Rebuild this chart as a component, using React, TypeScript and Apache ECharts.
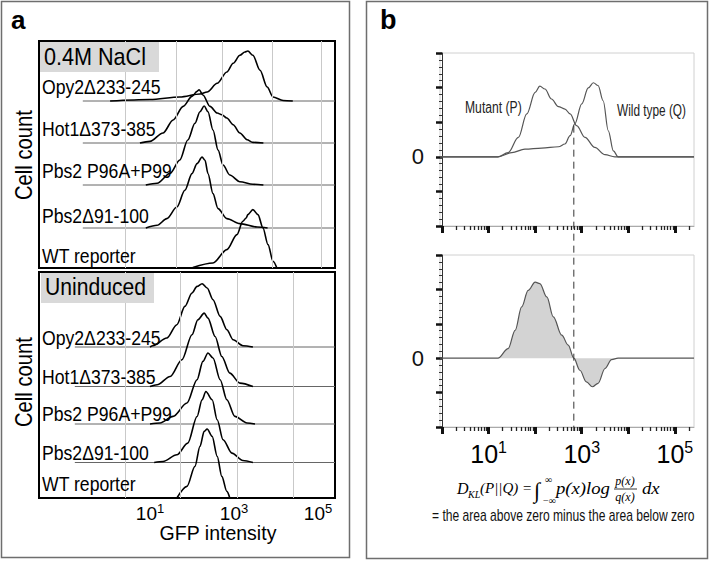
import { useEffect, useRef } from 'react';
import * as echarts from 'echarts';

const NARROW = "'Liberation Sans Narrow','Arial Narrow','Liberation Sans',Arial,sans-serif";
const SANS = "'Liberation Sans',Arial,Helvetica,sans-serif";
const SERIF = "'Liberation Serif','Times New Roman',serif";

// ---------- Panel a : x = log10(GFP intensity), y = cell count (a.u.) above each ridge baseline
const strainLabels = ['Opy2Δ233-245', 'Hot1Δ373-385', 'Pbs2 P96A+P99', 'Pbs2Δ91-100', 'WT reporter'];
const saltOffsets = [167, 125, 83, 40, 0];
const uninducedOffsets = [151, 111.5, 74, 35.5, 0];
const saltBaselineStart = -0.6;
const uninducedBaselineStart = -0.79;

const opy2Salt = [[0.05, 0], [1.0, 1.5], [1.71, 4], [2.19, 7], [2.36, 9], [2.6, 17.7], [2.83, 29], [2.98, 37.7], [3.14, 45.7], [3.26, 49], [3.33, 50], [3.45, 45.7], [3.62, 30.7], [3.79, 14], [3.93, 4], [4.17, 0.5], [4.4, 0]];
const hot1Salt = [[0.76, 0], [1.0, 1.6], [1.31, 10], [1.55, 23], [1.79, 36.6], [2.0, 46.6], [2.12, 51.6], [2.17, 53.3], [2.26, 48], [2.43, 36.6], [2.6, 30], [2.71, 28.3], [2.83, 25], [2.98, 18.3], [3.14, 10], [3.31, 3.3], [3.45, 0.6], [3.7, 0]];
const p96Salt = [[0.9, 0], [1.17, 1.7], [1.48, 11.7], [1.71, 25], [1.9, 45], [2.07, 61.7], [2.19, 73.3], [2.29, 79], [2.38, 73.3], [2.5, 55], [2.62, 35], [2.74, 20], [2.9, 10], [3.14, 3.3], [3.45, 0.7], [3.7, 0]];
const d91Salt = [[0.9, 0], [1.17, 2.7], [1.4, 9.4], [1.64, 21], [1.83, 37.7], [2.0, 54.4], [2.12, 64.4], [2.24, 71], [2.31, 67.7], [2.38, 54.4], [2.5, 34.4], [2.62, 19.4], [2.83, 9.4], [3.14, 4.4], [3.55, 1], [3.8, 0]];
const wtSalt = [[2.02, 0.5], [2.5, 5], [2.83, 18.4], [3.07, 33.4], [3.21, 46.7], [3.29, 50], [3.33, 53.4], [3.45, 58.4], [3.57, 53.4], [3.69, 40], [3.81, 23.4], [3.93, 6.7], [4.02, 0]];

const opy2Un = [[1.0, 0], [1.07, 1.3], [1.4, 9], [1.64, 22.3], [1.83, 40.6], [2.0, 54], [2.12, 60.6], [2.24, 63.3], [2.36, 59], [2.5, 47.3], [2.67, 30.6], [2.83, 17.3], [2.98, 7.3], [3.21, 1.3], [3.45, 0]];
const hot1Un = [[1.0, 0], [1.17, 1.7], [1.48, 10], [1.76, 26.7], [2.0, 51.7], [2.14, 66.7], [2.29, 73.4], [2.38, 68.4], [2.55, 50], [2.71, 30], [2.9, 13.4], [3.14, 3.4], [3.45, 0]];
const p96Un = [[1.0, 0], [1.24, 1], [1.55, 7.6], [1.88, 21], [2.12, 44.3], [2.26, 62.6], [2.38, 71], [2.5, 66], [2.67, 44.3], [2.83, 24.3], [3.02, 7.6], [3.31, 1], [3.5, 0]];
const d91Un = [[1.1, 0], [1.31, 1], [1.64, 7.7], [1.9, 19.4], [2.12, 46], [2.24, 62.7], [2.33, 71], [2.48, 62.7], [2.6, 42.7], [2.74, 22.7], [2.95, 9.4], [3.21, 2], [3.45, 0]];
const wtUn = [[1.64, 0], [1.88, 11.6], [2.07, 31.6], [2.19, 51.6], [2.29, 66.6], [2.36, 69], [2.48, 61.6], [2.6, 41.6], [2.71, 21.6], [2.83, 6.6], [2.9, 0]];

const saltCurves = [opy2Salt, hot1Salt, p96Salt, d91Salt, wtSalt];
const uninducedCurves = [opy2Un, hot1Un, p96Un, d91Un, wtUn];
const saltGridLines = [0.405, 1.62, 2.71, 3.9, 5.07];
const uninducedGridLines = [0.405, 1.71, 3.07, 4.4];
const panelATickDecades = [1, 3, 5];
const A_X_MIN = -1.643;
const A_X_MAX = 5.405;

// ---------- Panel b : x = log10(intensity)
const mutantP = [[1.2, 0], [1.42, 0.12], [1.64, 0.56], [1.82, 1.24], [2.0, 1.86], [2.1, 2.04], [2.21, 1.96], [2.35, 1.67], [2.5, 1.45], [2.64, 1.38], [2.75, 1.24], [2.89, 0.9], [3.07, 0.56], [3.28, 0.27], [3.5, 0.06], [3.71, 0]];
const wildQ = [[1.2, 0], [1.5, 0.12], [1.78, 0.22], [2.14, 0.25], [2.5, 0.29], [2.64, 0.37], [2.75, 0.61], [2.85, 0.95], [3.0, 1.53], [3.14, 1.99], [3.25, 2.14], [3.35, 2.06], [3.46, 1.62], [3.57, 0.75], [3.68, 0.17], [3.78, 0]];
const klIntegrand = [[1.2, 0], [1.42, 0.28], [1.57, 0.81], [1.71, 1.49], [1.85, 1.97], [2.0, 2.21], [2.1, 2.17], [2.25, 1.78], [2.39, 1.2], [2.57, 0.67], [2.71, 0.38], [2.83, 0], [2.96, -0.35], [3.1, -0.69], [3.23, -0.83], [3.35, -0.73], [3.5, -0.3], [3.64, -0.04], [3.78, 0]];
const crossLog = 2.83;
const crossHeight = 0.9;
const panelBMajorDecades = [0, 1, 2, 3, 4, 5];
const panelBLabelDecades = [1, 3, 5];
const B_X_MIN = -0.043;
const B_X_MAX = 5.41;

const minorDecades: number[] = [];
for (let d = 0; d <= 5; d++) {
  for (let k = 2; k <= 9; k++) {
    const v = d + Math.log10(k);
    if (v <= B_X_MAX) minorDecades.push(v);
  }
}

function txt(text: string, x: number, y: number, size: number, opts: any = {}) {
  return {
    type: 'text',
    x,
    y,
    z: 110,
    scaleX: opts.scaleX ?? 1,
    rotation: opts.rotation ?? 0,
    style: {
      text,
      fontSize: size,
      fontFamily: opts.family ?? SANS,
      fontWeight: opts.weight ?? 'normal',
      fontStyle: opts.italic ? 'italic' : 'normal',
      fill: opts.fill ?? '#000',
      align: opts.align ?? 'left',
      verticalAlign: 'middle',
    },
  };
}

function buildGraphic(dash: number[] | null) {
  const els: any[] = [
    { type: 'rect', z: 100, shape: { x: 1.5, y: 1.5, width: 348, height: 556 }, style: { fill: 'none', stroke: '#6e6e6e', lineWidth: 1.5 } },
    { type: 'rect', z: 100, shape: { x: 366.5, y: 1.5, width: 341, height: 557 }, style: { fill: 'none', stroke: '#6e6e6e', lineWidth: 1.5 } },
    txt('a', 11, 20, 26, { weight: 'bold' }),
    txt('b', 380, 20, 27, { weight: 'bold' }),
    { type: 'rect', z: 100, shape: { x: 40, y: 42, width: 119, height: 30 }, style: { fill: '#d9d9d9' } },
    txt('0.4M NaCl', 44, 57, 24, { scaleX: 0.9 }),
    { type: 'rect', z: 100, shape: { x: 41, y: 273, width: 113, height: 30 }, style: { fill: '#d9d9d9' } },
    txt('Uninduced', 45, 287, 24, { scaleX: 0.88 }),
    txt('Cell count', 24, 155, 23, { scaleX: 0.88, rotation: Math.PI / 2, align: 'center' }),
    txt('Cell count', 24, 382, 23, { scaleX: 0.88, rotation: Math.PI / 2, align: 'center' }),
    txt('GFP intensity', 218, 533, 21, { scaleX: 0.93, align: 'center' }),
    txt('Mutant (P)', 465, 107, 16, { scaleX: 0.76, fill: '#222' }),
    txt('Wild type (Q)', 617, 110, 16, { scaleX: 0.74, fill: '#222' }),
    // formula
    txt('D', 457, 488, 16, { family: SERIF, italic: true }),
    txt('KL', 468, 494, 10, { family: SERIF, italic: true }),
    txt('(P||Q) =', 480, 488, 15, { family: SERIF, italic: true }),
    txt('∫', 534, 490, 22, { family: SERIF, italic: true }),
    txt('∞', 545, 479, 10, { family: SERIF }),
    txt('−∞', 543, 500, 10, { family: SERIF }),
    txt('p(x)log', 556, 488, 17, { family: SERIF, italic: true, scaleX: 1.1 }),
    txt('p(x)', 625, 481, 12, { family: SERIF, italic: true, align: 'center' }),
    { type: 'line', z: 110, shape: { x1: 614, y1: 489, x2: 637, y2: 489 }, style: { stroke: '#000', lineWidth: 0.8 } },
    txt('q(x)', 625, 497, 12, { family: SERIF, italic: true, align: 'center' }),
    txt('dx', 642, 488, 17, { family: SERIF, italic: true, scaleX: 1.1 }),
    txt('= the area above zero minus the area below zero', 432, 515, 16, { scaleX: 0.755, fill: '#111' }),
  ];
  const labelYTop = [86, 128, 170, 215, 255];
  const labelYBottom = [337, 376, 413, 452, 483];
  strainLabels.forEach((s, i) => {
    els.push(txt(s, 42, labelYTop[i], 21, { scaleX: 0.84 }));
    els.push(txt(s, 42, labelYBottom[i], 21, { scaleX: 0.84 }));
  });
  if (dash) {
    els.push({ type: 'line', z: 105, shape: { x1: dash[0], y1: dash[1], x2: dash[2], y2: dash[3] }, style: { stroke: '#333', lineWidth: 1, lineDash: [7, 5] } });
  }
  return els;
}

function ridgeSeries(curves: number[][][], offsets: number[], start: number, axis: number, gridLines: number[]) {
  const out: any[] = [];
  out.push({
    type: 'line', xAxisIndex: axis, yAxisIndex: axis, data: [[A_X_MIN, 0]], symbol: 'none', lineStyle: { opacity: 0 }, z: 1, silent: true,
    markLine: { silent: true, symbol: ['none', 'none'], label: { show: false }, lineStyle: { color: '#c9c9c9', width: 1, type: 'solid' }, data: gridLines.map((v) => ({ xAxis: v })) },
  });
  curves.forEach((c, i) => {
    const off = offsets[i];
    if (off > 0) {
      out.push({ type: 'line', xAxisIndex: axis, yAxisIndex: axis, data: [[start, off], [A_X_MAX, off]], symbol: 'none', lineStyle: { color: '#666', width: 1 }, z: 2, silent: true });
    }
    out.push({
      type: 'line', name: strainLabels[i], xAxisIndex: axis, yAxisIndex: axis, smooth: 0.3, smoothMonotone: 'x',
      data: c.map(([x, h]) => [x, h + off]), symbol: 'none', lineStyle: { color: '#000', width: 1.6 }, z: 3, silent: true,
    });
  });
  return out;
}

const powRich = (big: number, small: number) => ({
  b: { fontSize: big, fontFamily: NARROW, color: '#000', lineHeight: big + 4 },
  s: { fontSize: small, fontFamily: NARROW, color: '#000', verticalAlign: 'top', lineHeight: big + 4 },
});

export default function App() {
  const ref = useRef<HTMLDivElement>(null);
  useEffect(() => {
    const chart = echarts.init(ref.current!, null, { renderer: 'svg' });
    const bXMajor = (grid: number, labels: boolean) => ({
      gridIndex: grid, type: 'value', position: 'bottom', min: B_X_MIN, max: B_X_MAX,
      axisLine: { show: true, onZero: false, lineStyle: { color: '#aaa', width: 1 } },
      axisTick: { show: true, customValues: panelBMajorDecades, length: 7, lineStyle: { color: '#111', width: 3 } },
      axisLabel: labels
        ? { show: true, customValues: panelBLabelDecades, margin: 12, formatter: (v: number) => `{b|10}{s|${v}}`, rich: powRich(25, 16) }
        : { show: false },
      splitLine: { show: false },
    });
    const bXMinor = (grid: number) => ({
      gridIndex: grid, type: 'value', position: 'bottom', min: B_X_MIN, max: B_X_MAX,
      axisLine: { show: false, onZero: false },
      axisTick: { show: true, customValues: minorDecades, length: 4, lineStyle: { color: '#222', width: 1.3 } },
      axisLabel: { show: false }, splitLine: { show: false },
    });
    const bY = (grid: number) => ({
      gridIndex: grid, type: 'value', min: -2, max: 3, interval: 1,
      axisLine: { show: true, lineStyle: { color: '#333', width: 1 } },
      axisTick: { show: true, length: 6, lineStyle: { color: '#111', width: 2.5 } },
      minorTick: { show: true, splitNumber: 5, length: 3, lineStyle: { color: '#333', width: 1 } },
      axisLabel: { show: true, margin: 16, fontSize: 22, fontFamily: SANS, color: '#111', formatter: (v: number) => (v === 0 ? '0' : '') },
      splitLine: { show: false },
    });

    const option: any = {
      animation: false,
      backgroundColor: '#fff',
      grid: [
        { left: 39, top: 41, width: 296, height: 227, show: true, borderColor: '#000', borderWidth: 2 },
        { left: 39, top: 272, width: 296, height: 226, show: true, borderColor: '#000', borderWidth: 2 },
        { left: 440, top: 53, width: 254, height: 173, show: true, borderColor: '#d0d0d0', borderWidth: 1 },
        { left: 440, top: 255, width: 254, height: 172, show: true, borderColor: '#d0d0d0', borderWidth: 1 },
      ],
      xAxis: [
        { gridIndex: 0, type: 'value', min: A_X_MIN, max: A_X_MAX, show: false },
        {
          gridIndex: 1, type: 'value', position: 'bottom', min: A_X_MIN, max: A_X_MAX,
          axisLine: { show: false, onZero: false }, axisTick: { show: false }, splitLine: { show: false },
          axisLabel: { show: true, customValues: panelATickDecades, margin: 4, formatter: (v: number) => `{b|10}{s|${v}}`, rich: powRich(19, 13) },
        },
        bXMajor(2, false),
        bXMinor(2),
        bXMajor(3, true),
        bXMinor(3),
      ],
      yAxis: [
        { gridIndex: 0, type: 'value', min: 0, max: 227, show: false },
        { gridIndex: 1, type: 'value', min: 0, max: 226, show: false },
        bY(2),
        bY(3),
      ],
      series: [
        ...ridgeSeries(saltCurves, saltOffsets, saltBaselineStart, 0, saltGridLines),
        ...ridgeSeries(uninducedCurves, uninducedOffsets, uninducedBaselineStart, 1, uninducedGridLines),
        {
          type: 'line', name: 'Mutant (P)', xAxisIndex: 2, yAxisIndex: 2, smooth: 0.35, smoothMonotone: 'x', symbol: 'none', silent: true,
          data: [[B_X_MIN, 0], ...mutantP, [B_X_MAX, 0]], lineStyle: { color: '#555', width: 1.2 },
        },
        {
          type: 'line', name: 'Wild type (Q)', xAxisIndex: 2, yAxisIndex: 2, smooth: 0.35, smoothMonotone: 'x', symbol: 'none', silent: true,
          data: [[B_X_MIN, 0], ...wildQ, [B_X_MAX, 0]], lineStyle: { color: '#555', width: 1.2 },
        },
        {
          type: 'line', name: 'p log(p/q)', xAxisIndex: 4, yAxisIndex: 3, smooth: 0.35, smoothMonotone: 'x', symbol: 'none', silent: true,
          data: [[B_X_MIN, 0], ...klIntegrand, [B_X_MAX, 0]], lineStyle: { color: '#555', width: 1.2 },
          areaStyle: { color: '#d3d3d3', opacity: 1, origin: 0 },
        },
      ],
      graphic: buildGraphic(null),
    };
    chart.setOption(option);
    const p1 = chart.convertToPixel({ xAxisIndex: 2, yAxisIndex: 2 } as any, [crossLog, crossHeight]) as number[];
    const p2 = chart.convertToPixel({ xAxisIndex: 4, yAxisIndex: 3 } as any, [crossLog, -2]) as number[];
    if (p1 && p2) {
      chart.setOption({ graphic: buildGraphic([p1[0], p1[1], p2[0], p2[1] + 4]) }, { replaceMerge: ['graphic'] } as any);
    }
    return () => chart.dispose();
  }, []);
  return <div ref={ref} style={{ position: 'fixed', left: 0, top: 0, width: 709, height: 561, background: '#fff' }} />;
}
